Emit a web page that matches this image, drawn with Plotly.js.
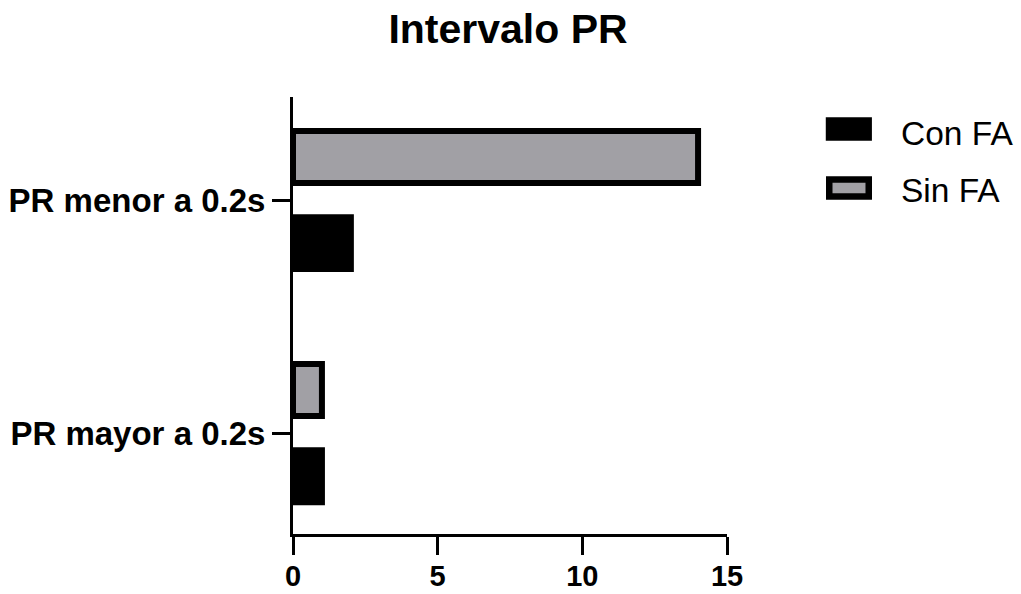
<!DOCTYPE html>
<html>
<head>
<meta charset="utf-8">
<script src="https://cdn.plot.ly/plotly-3.0.1.min.js"></script>
<style>
html,body{margin:0;padding:0;background:#fff;}
#chart{width:1021px;height:594px;}
</style>
</head>
<body>
<div id="chart"></div>
<script>
var categories = ['PR mayor a 0.2s', 'PR menor a 0.2s'];
var seriesNames = ['Con FA', 'Sin FA'];
var conFA = [1, 2];
var sinFA = [1, 14];
var xTicks = [0, 5, 10, 15];
var titleText = 'Intervalo PR';

var FONT = 'Liberation Sans, Arial, sans-serif';
var GRAY = '#a1a0a5';

var traces = [
  {
    type: 'bar', orientation: 'h', name: seriesNames[0],
    y: categories, x: conFA,
    width: 0.223, offset: -0.2965,
    marker: {color: '#000000', line: {color: '#000000', width: 6}},
    cliponaxis: false, hoverinfo: 'none'
  },
  {
    type: 'bar', orientation: 'h', name: seriesNames[1],
    y: categories, x: sinFA,
    width: 0.223, offset: 0.0735,
    marker: {color: GRAY, line: {color: '#000000', width: 6}},
    cliponaxis: false, hoverinfo: 'none'
  }
];

var layout = {
  width: 1021, height: 594,
  margin: {l: 292.5, r: 294.3, t: 97, b: 60, pad: 0},
  paper_bgcolor: '#ffffff', plot_bgcolor: '#ffffff',
  showlegend: false,
  barmode: 'overlay',
  font: {family: FONT, color: '#000000'},
  title: {
    text: '<b>' + titleText + '</b>',
    font: {family: FONT, size: 41, color: '#000000'},
    x: 0.4976, xref: 'container', xanchor: 'center',
    y: 1 - 29 / 594, yref: 'container', yanchor: 'middle'
  },
  xaxis: {
    range: [0, 15], tickvals: xTicks, ticktext: xTicks.map(function (v) { return '<b>' + v + '</b>'; }),
    showgrid: false, zeroline: false,
    showline: true, linecolor: '#000000', linewidth: 3,
    ticks: 'outside', ticklen: 18, tickwidth: 3, tickcolor: '#000000',
    ticklabelstandoff: -4,
    tickfont: {family: FONT, size: 29, color: '#000000'},
    fixedrange: true
  },
  yaxis: {
    type: 'category', categoryorder: 'array', categoryarray: categories,
    range: [-0.433, 1.442],
    tickvals: categories, ticktext: categories.map(function (c) { return '<b>' + c + '</b>'; }),
    showgrid: false, zeroline: false,
    showline: true, linecolor: '#000000', linewidth: 3,
    ticks: 'outside', ticklen: 18, tickwidth: 3, tickcolor: '#000000',
    tickfont: {family: FONT, size: 33, color: '#000000'},
    fixedrange: true
  },
  shapes: [
    {type: 'rect', xref: 'paper', yref: 'paper', x0: 1.2276, x1: 1.3339, y0: 0.9000, y1: 0.9535,
     fillcolor: '#000000', line: {width: 0}},
    {type: 'rect', xref: 'paper', yref: 'paper', x0: 1.2356, x1: 1.3266, y0: 0.7723, y1: 0.8112,
     fillcolor: GRAY, line: {color: '#000000', width: 6.5}}
  ],
  annotations: [
    {xref: 'paper', yref: 'paper', x: 1.3966, y: 0.9176, xanchor: 'left', yanchor: 'middle',
     text: seriesNames[0], showarrow: false, font: {family: FONT, size: 33.5, color: '#000000'}},
    {xref: 'paper', yref: 'paper', x: 1.3966, y: 0.7849, xanchor: 'left', yanchor: 'middle',
     text: seriesNames[1], showarrow: false, font: {family: FONT, size: 33.5, color: '#000000'}}
  ]
};

Plotly.newPlot('chart', traces, layout, {displayModeBar: false, staticPlot: true});
</script>
</body>
</html>
